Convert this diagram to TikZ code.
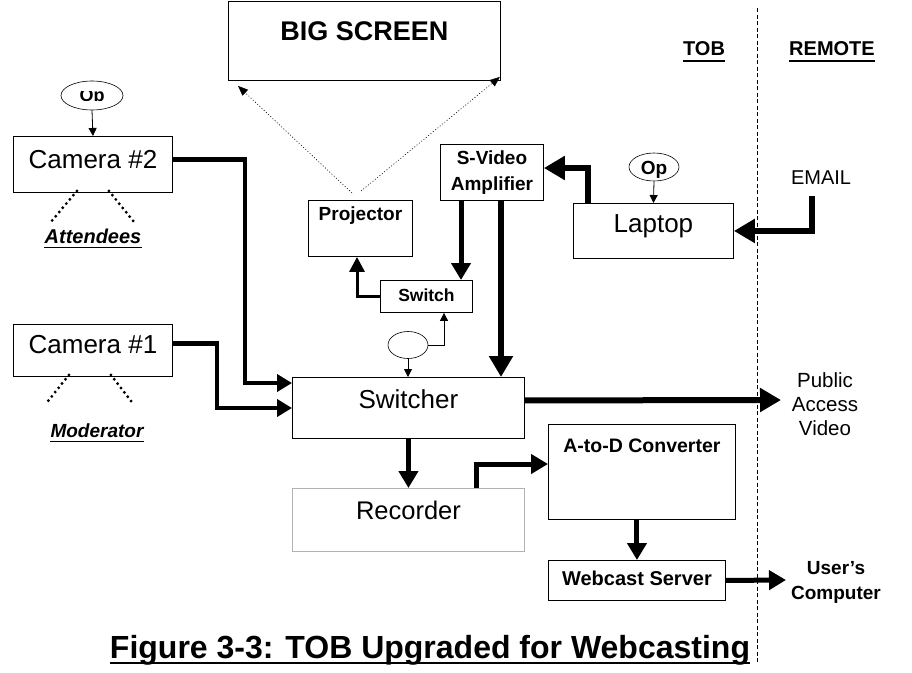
\documentclass[tikz,border=0pt]{standalone}
\usepackage{fontspec}
\setmainfont{Liberation Sans}
\usetikzlibrary{arrows.meta,shapes.geometric}
\begin{document}
\begin{tikzpicture}[x=1pt,y=-1pt,
  box/.style={draw=black, line width=0.9pt, rectangle, inner sep=0pt, anchor=north west, align=center},
  fs/.style={font=\fontsize{#1}{#1}\selectfont},
  fsb/.style={font=\fontsize{#1}{#1}\selectfont\bfseries},
  camarr/.style={line width=4.5pt, -{Triangle[length=15pt,width=17pt]}},
  bigarr/.style={line width=6pt, -{Triangle[length=21pt,width=23pt]}},
  medarr/.style={line width=5pt, -{Triangle[length=17pt,width=19pt]}},
  smarr/.style={line width=3pt, -{Triangle[length=15pt,width=15pt]}},
  thinarr/.style={line width=0.8pt, -{Triangle[length=8pt,width=8pt]}},
  dotarr/.style={line width=0.6pt, dash pattern=on 1pt off 2pt, -{Triangle[length=10pt,width=8pt]}},
  camdot/.style={line width=3.2pt, dash pattern=on 0pt off 5.5pt, line cap=round},
  ul/.style={line width=1.6pt},
  opell/.style={ellipse, draw=black, line width=0.6pt, inner sep=0pt}
]
\useasboundingbox (0,0) rectangle (912,672);

% boxes
\node[box, fsb=27, minimum width=272pt, text height=39pt, text depth=40pt] (scr) at (228,1) {BIG SCREEN};
\node[box, fs=26, minimum width=159pt, text height=32pt, text depth=24pt] (cam2) at (13,136) {Camera \#2};
\node[box, fs=26, minimum width=159pt, text height=29pt, text depth=23pt] (cam1) at (13,324) {Camera \#1};
\node[box, fsb=19, minimum width=104pt, text height=20pt, text depth=36pt] (proj) at (308,200) {Projector};
\node[box, font=\fontsize{19}{26}\selectfont\bfseries, minimum width=103pt, minimum height=56pt] (sva) at (440,144) {S-Video\\Amplifier};
\node[box, fsb=17.5, minimum width=92pt, text height=21pt, text depth=11pt] (sws) at (380,280) {Switch};
\node[box, fs=26, minimum width=232pt, text height=31pt, text depth=30pt] (sw) at (292,377) {Switcher};
\node[box, draw=black!30, fs=25.5, minimum width=232pt, text height=31pt, text depth=32pt] (rec) at (292,488) {Recorder};
\node[box, fsb=19.5, minimum width=187pt, text height=28pt, text depth=67pt] (atod) at (548,424) {A-to-D Converter};
\node[box, fsb=20, minimum width=177pt, text height=25pt, text depth=15pt] (web) at (548,560) {Webcast Server};
\node[box, fs=26, minimum width=160pt, text height=29pt, text depth=26pt] (lap) at (573,203) {Laptop};

% ellipses
\node[opell, minimum width=62pt, minimum height=29pt] (op2) at (92,95.5) {};
\begin{scope}
  \clip (62,91) rectangle (122,100.5);
  \node[fsb=18, inner sep=0pt, anchor=base] (op2t) at (92,101) {Op};
\end{scope}
\node[opell, minimum width=50pt, minimum height=28pt] (opl) at (654,167) {};
\node[fsb=19, inner sep=0pt, anchor=base] (oplt) at (654,174) {Op};
\node[opell, minimum width=40pt, minimum height=27pt] (ctl) at (408,345) {};

% text labels
\node[fsb=20, inner sep=0pt, anchor=base] (tob) at (704,55) {TOB};
\node[fsb=20, inner sep=0pt, anchor=base] (remote) at (832,55) {REMOTE};
\draw[ul] ([yshift=-6pt]tob.base west) -- ([yshift=-6pt]tob.base east);
\draw[ul] ([yshift=-6pt]remote.base west) -- ([yshift=-6pt]remote.base east);
\node[fs=20, inner sep=0pt, anchor=base] (email) at (821,184) {EMAIL};
\node[font=\fontsize{20.5}{24}\selectfont, align=center, inner sep=0pt] (pub) at (825,404) {Public\\Access\\Video};
\node[font=\fontsize{19}{25}\selectfont\bfseries, align=center, inner sep=0pt] (user) at (836,582) {User’s\\Computer};
\node[font=\fontsize{20}{20}\selectfont\bfseries\itshape, inner sep=0pt, anchor=base] (att) at (93,243) {Attendees};
\draw[line width=1pt] ([yshift=-4pt]att.base west) -- ([yshift=-4pt]att.base east);
\node[font=\fontsize{19}{19}\selectfont\bfseries\itshape, inner sep=0pt, anchor=base] (mod) at (97,437) {Moderator};
\draw[line width=1pt] ([yshift=-4pt]mod.base west) -- ([yshift=-4pt]mod.base east);
\node[fsb=32, inner sep=0pt, anchor=base] (cap) at (430,658) {Figure 3-3: TOB Upgraded for Webcasting};
\draw[line width=2.8pt] ([yshift=-5pt]cap.base west) -- ([yshift=-5pt]cap.base east);

% divider
\coordinate (dtop) at (757,8);
\coordinate (dbot) at (757,662);
\draw[line width=0.8pt, dash pattern=on 4pt off 2.5pt] (dtop) -- (dbot);

% camera view lines
\draw[camdot] ([xshift=-16pt,yshift=2pt]cam2.south) -- ++(-26,31);
\draw[camdot] ([xshift=16pt,yshift=2pt]cam2.south) -- ++(25,31);
\draw[camdot] ([xshift=-24pt,yshift=2pt]cam1.south) -- ++(-24,30);
\draw[camdot] ([xshift=18pt,yshift=2pt]cam1.south) -- ++(23,30);

% projector to screen
\coordinate (pjl) at (352,193);
\coordinate (pjr) at (361,191);
\draw[dotarr] (pjl) -- ([shift={(10,5)}]scr.south west);
\draw[dotarr] (pjr) -- ([shift={(-1,-4)}]scr.south east);

% op arrows
\draw[thinarr] (op2.south) -- (cam2.north);
\draw[thinarr] (opl.south) -- (lap.north);

% cameras to switcher
\coordinate (c2bend) at (245,383);
\draw[camarr] ([yshift=5pt]cam2.east) -| (c2bend) -- (c2bend -| sw.west);
\coordinate (c1bend) at (217,408);
\draw[camarr] ([yshift=7pt]cam1.east) -| (c1bend) -- (c1bend -| sw.west);

% switcher outputs
\draw[medarr] (sw.south) -- (rec.north);
\coordinate (pubpt) at (781,400);
\draw[bigarr] ([yshift=7.5pt]sw.east) -- (pubpt);

% recorder to A-to-D
\coordinate (ra) at (476,464);
\draw[medarr] (rec.north -| ra) -- (ra) -- (ra -| atod.west);
\draw[medarr] (web.north |- atod.south) -- (web.north);
\coordinate (userpt) at (786,580);
\draw[medarr] (web.east) -- (userpt);

% email to laptop
\coordinate (emtop) at (812,196);
\draw[bigarr] (emtop) |- (lap.east);

% laptop to s-video
\coordinate (lsv) at (588,168);
\draw[bigarr] (lap.north -| lsv) -- (lsv) -- (lsv -| sva.east);

% s-video outputs
\coordinate (svs) at (461,240);
\draw[medarr] (sva.south -| svs) -- (svs |- sws.north);
\coordinate (svw) at (501,300);
\draw[bigarr] (sva.south -| svw) -- (svw |- sw.north);

% switch to projector
\coordinate (spx) at (357,295);
\draw[smarr] (sws.west) -| (spx |- proj.south);

% control ellipse
\coordinate (esx) at (444,330);
\draw[thinarr] (ctl.east) -| (esx |- sws.south);
\draw[thinarr] (ctl.south) -- (ctl.south |- sw.north);
\end{tikzpicture}
\end{document}
